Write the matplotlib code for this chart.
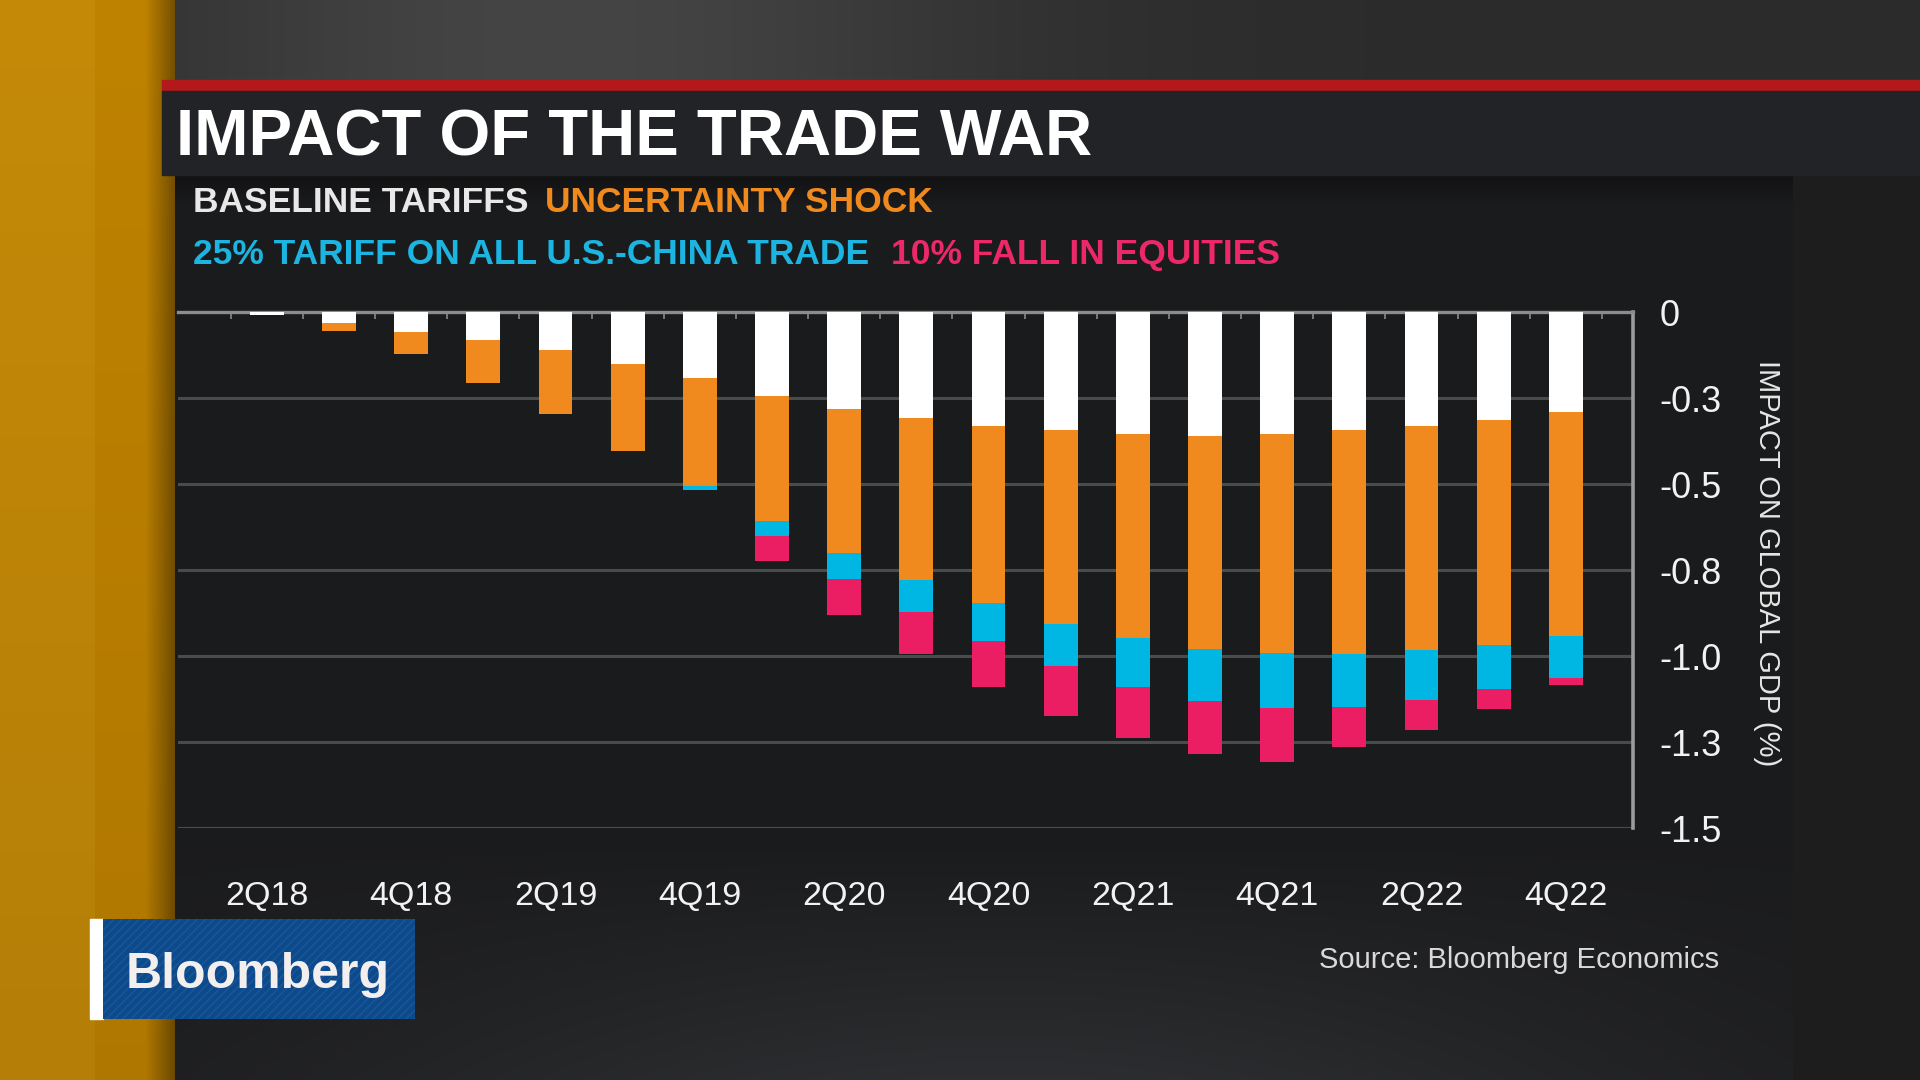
import numpy as np
import matplotlib
matplotlib.use("Agg")
import matplotlib.pyplot as plt
from matplotlib.patches import Rectangle

plt.rcParams['font.family'] = ['Liberation Sans', 'DejaVu Sans']

# quarters shown on the chart (2Q18 .. 4Q22)
quarters = ['2Q18', '3Q18', '4Q18', '1Q19', '2Q19', '3Q19', '4Q19', '1Q20', '2Q20', '3Q20',
            '4Q20', '1Q21', '2Q21', '3Q21', '4Q21', '1Q22', '2Q22', '3Q22', '4Q22']

# impact on global GDP (%), stacked contributions
baseline = [-0.008, -0.031, -0.058, -0.082, -0.110, -0.150, -0.193, -0.244, -0.282, -0.307,
            -0.330, -0.343, -0.354, -0.360, -0.354, -0.343, -0.330, -0.314, -0.292]
uncertainty = [0.0, -0.025, -0.065, -0.123, -0.187, -0.253, -0.312, -0.363, -0.420, -0.473,
               -0.517, -0.564, -0.595, -0.621, -0.638, -0.650, -0.653, -0.653, -0.649]
tariff25 = [0.0, 0.0, 0.0, 0.0, 0.0, 0.0, -0.012, -0.043, -0.075, -0.093,
            -0.110, -0.121, -0.141, -0.149, -0.160, -0.154, -0.145, -0.130, -0.123]
equities = [0.0, 0.0, 0.0, 0.0, 0.0, 0.0, 0.0, -0.075, -0.103, -0.120,
            -0.133, -0.145, -0.149, -0.156, -0.156, -0.118, -0.087, -0.056, -0.021]

series_names = ['BASELINE TARIFFS', 'UNCERTAINTY SHOCK',
                '25% TARIFF ON ALL U.S.-CHINA TRADE', '10% FALL IN EQUITIES']
bar_colors = ['#ffffff', '#f08a1e', '#00b6e3', '#eb1e64']
text_colors = ['#e8e8e8', '#f08a1e', '#1cb4e0', '#ec2868']

y_ticks = [0, -0.25, -0.5, -0.75, -1.0, -1.25, -1.5]
y_ticklabels = ['0', '-0.3', '-0.5', '-0.8', '-1.0', '-1.3', '-1.5']

W, H = 1920, 1080
fig = plt.figure(figsize=(19.2, 10.8), dpi=100)


def fbox(x0, y0, x1, y1):
    # pixel box (top-left origin) -> figure fraction rect
    return [x0 / W, 1 - y1 / H, (x1 - x0) / W, (y1 - y0) / H]


def ftext(x, y, s, **kw):
    return fig.text(x / W, 1 - y / H, s, **kw)


def frect(x0, y0, x1, y1, **kw):
    r = fbox(x0, y0, x1, y1)
    fig.add_artist(Rectangle(r[:2], r[2], r[3], transform=fig.transFigure, zorder=1, **kw))


# ---- background ----
yy, xx = np.mgrid[0:H, 0:W].astype(float)
bg = np.full((H, W, 3), 0.125)
top = 0.17 + 0.10 * np.exp(-((xx - 560) / 420) ** 2)
bg[yy < 86] = np.repeat(top[yy < 86][:, None], 3, axis=1)
panel = (xx >= 175) & (xx < 1793) & (yy >= 175)
pv = np.full((H, W), 0.105)
pv = np.where(yy < 205, 0.07 + 0.035 * (yy - 175) / 30, pv)
pv = np.where(yy > 840, 0.105 + 0.07 * ((yy - 840) / 240) * np.exp(-((xx - 1000) / 700) ** 2), pv)
bg[panel] = np.stack([pv[panel], pv[panel] * 1.02, pv[panel] * 1.08], axis=1)
right = (xx >= 1793) & (yy >= 86)
bg[right] = 0.115
gold = xx < 175
bg[gold] = [0.77, 0.54, 0.03]
bg[(xx >= 95) & (xx < 175)] = [0.75, 0.51, 0.0]
fade = np.clip((xx - 145) / 30, 0, 1)
shade = 1 - 0.4 * fade
bg[gold] *= shade[gold][:, None]
bg[gold] *= (1 - 0.08 * yy[gold] / H)[:, None]

bga = fig.add_axes([0, 0, 1, 1], zorder=-5)
bga.imshow(bg, aspect='auto', extent=(0, W, H, 0), interpolation='bilinear')
bga.set_xlim(0, W)
bga.set_ylim(H, 0)
bga.axis('off')

# red rule and title band
frect(162, 80, 1920, 91, color='#b3191b')
frect(162, 91, 1920, 175, color='#222327')

ftext(176, 155, 'IMPACT OF THE TRADE WAR', color='white', fontsize=47,
      fontweight='bold', va='baseline', zorder=4)

# legend rows
ftext(193, 212, series_names[0], color=text_colors[0], fontsize=25.5, fontweight='bold', va='baseline')
ftext(545, 212, series_names[1], color=text_colors[1], fontsize=25.5, fontweight='bold', va='baseline')
ftext(193, 264, series_names[2], color=text_colors[2], fontsize=25.5, fontweight='bold', va='baseline')
ftext(891, 264, series_names[3], color=text_colors[3], fontsize=25.5, fontweight='bold', va='baseline')

# ---- chart ----
ax = fig.add_axes(fbox(178, 312, 1633, 828), zorder=2)
ax.set_facecolor('none')
x = np.arange(len(quarters))
bottom = np.zeros(len(quarters))
for vals, col in zip([baseline, uncertainty, tariff25, equities], bar_colors):
    v = np.array(vals)
    ax.bar(x, v, bottom=bottom, width=0.47, color=col, linewidth=0, zorder=3)
    bottom = bottom + v

ax.set_xlim(-1.23, 18.93)
ax.set_ylim(-1.5, 0)
ax.set_yticks(y_ticks)
ax.set_yticklabels(y_ticklabels)
ax.yaxis.tick_right()
ax.tick_params(axis='y', length=0, pad=19, labelsize=26, labelcolor='#f2f2f2')
ax.set_xticks(x[::2])
ax.set_xticklabels(quarters[::2])
ax.tick_params(axis='x', length=0, pad=38, labelsize=24.5, labelcolor='#f2f2f2')
ax.set_xticks(np.arange(-0.5, len(quarters), 1), minor=True)
ax.tick_params(axis='x', which='minor', bottom=False, top=True, direction='in',
               length=5, width=1.2, color='#8a8a8a')
ax.grid(axis='y', color='#4a4b4d', linewidth=2.2, zorder=0)
ax.set_axisbelow(True)
for side in ['left', 'bottom']:
    ax.spines[side].set_visible(False)
ax.spines['top'].set_color('#8c8c8c')
ax.spines['top'].set_linewidth(2.4)
ax.spines['right'].set_color('#9c9c9c')
ax.spines['right'].set_linewidth(2.6)

ftext(1767, 563, 'IMPACT ON GLOBAL GDP (%)', color='#e6e6e6', fontsize=21,
      rotation=-90, ha='center', va='center')

ftext(1719, 968, 'Source: Bloomberg Economics', color='#d9d9d9', fontsize=21,
      ha='right', va='baseline')

# Bloomberg badge
frect(90, 919, 103, 1019, color='#ffffff')
frect(103, 919, 415, 1019, facecolor='#0c4a8c', edgecolor='#1a5799', hatch='////', linewidth=0)
ftext(126, 988, 'Bloomberg', color='#f4efef', fontsize=36, fontweight='bold',
      va='baseline', zorder=4)

fig.savefig('out.png', dpi=100, facecolor=fig.get_facecolor())
